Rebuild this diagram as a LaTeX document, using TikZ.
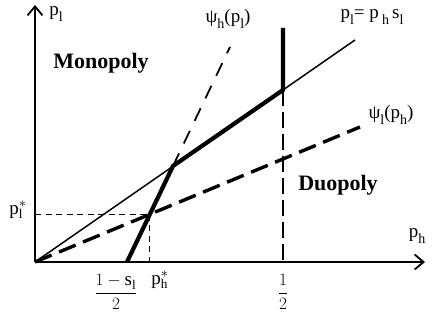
\documentclass[tikz,border=0pt]{standalone}
\usepackage{fontspec}
\setmainfont{Liberation Serif}
\usetikzlibrary{arrows.meta}
\newcommand{\lo}[1]{\raisebox{-0.32em}{\fontsize{14}{14}\selectfont #1}}
\tikzset{
  region/.style={font=\fontsize{22}{24}\selectfont\bfseries},
  bestresp/.style={line width=1.8pt,dash pattern=on 14pt off 11pt},
  lowresp/.style={line width=3.4pt,dash pattern=on 18pt off 8pt},
  guide/.style={line width=1pt,dash pattern=on 6pt off 4.5pt},
  halfline/.style={line width=1.5pt,dash pattern=on 16pt off 6pt}
}

\begin{document}
\begin{tikzpicture}[x=1pt,y=1pt,font=\fontsize{19}{21}\selectfont,>={Straight Barb[length=9pt,width=15pt]}]
\useasboundingbox (-35,-58) rectangle (398,262);
% axes
\coordinate (O) at (0,0);
\coordinate (ytop) at (0,257);
\coordinate (xend) at (390,0);
\draw[->,line width=1.8pt] (O) -- (ytop);
\draw[->,line width=1.8pt] (O) -- (xend);
\node (pl) at (21,248) {p\lo{l}};
\node (ph) at (382,26) {p\lo{h}};
% key points
\coordinate (diagend) at (320,222);
\coordinate (psilend) at (325,135);
\coordinate (psihend) at (195,215);
\coordinate (A) at (92,0);
\coordinate (K) at (138,96);
\coordinate (B) at (248,172);
\coordinate (T) at (248,234);
\coordinate (Bx) at (248,0);
\coordinate (P) at (intersection of O--psilend and A--K);
% the lines
\draw[line width=1.5pt] (O) -- (diagend);
\draw[lowresp] (O) -- (psilend);
\draw[bestresp] (K) -- (psihend);
\draw[halfline] (B) -- (Bx);
\draw[guide] (O |- P) -- (P) -- (P |- O);
\draw[line width=4.2pt] (A) -- (K) -- (B) -- (T);
% labels
\node[region] (mono) at (66,199) {Monopoly};
\node[region] (duo) at (303,77) {Duopoly};
\node (psih) at (193,243) {ψ\lo{h}(p\lo{l})};
\node (diag) at (337,245) {p\lo{l}= p\,\lo{h}\,s\lo{l}};
\node (psil) at (356,147) {ψ\lo{l}(p\lo{h})};
\node (plstar) at (-17,52) {$\mathrm{p}^{*}_{\mathrm{l}}$};
\node (frac) at (81,-30) {$\displaystyle\frac{1-\mathrm{s}_{\mathrm{l}}}{2}$};
\node (phstar) at (125,-18) {$\mathrm{p}^{*}_{\mathrm{h}}$};
\node (half) at (248,-30) {\fontsize{16}{18}\selectfont$\displaystyle\frac{1}{2}$};
\end{tikzpicture}
\end{document}
